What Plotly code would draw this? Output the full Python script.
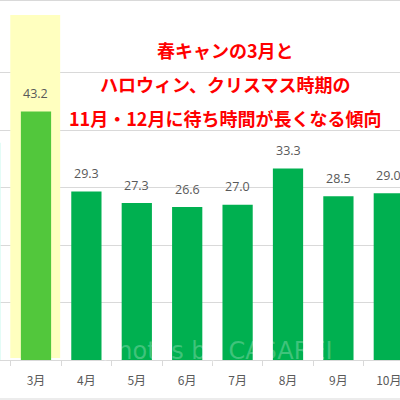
import plotly.graph_objects as go

months = ["2月", "3月", "4月", "5月", "6月", "7月", "8月", "9月", "10月"]
wait_times = [37.8, 43.2, 29.3, 27.3, 26.6, 27.0, 33.3, 28.5, 29.0]
label_texts = ["37.8", "43.2", "29.3", "27.3", "26.6", "27.0", "33.3", "28.5", "29.0"]
bar_colors = ["#d8fbf3", "#52c73c", "#00b050", "#00b050", "#00b050",
              "#00b050", "#00b050", "#00b050", "#00b050"]
note_lines = ["春キャンの3月と", "ハロウィン、クリスマス時期の", "11月・12月に待ち時間が長くなる傾向"]
watermark = "photos by CASAREI"

FONT = "Noto Sans CJK JP"

fig = go.Figure()
fig.add_trace(go.Bar(
    x=months, y=wait_times, marker=dict(color=bar_colors, line=dict(width=0)),
    width=0.6, hoverinfo="skip", showlegend=False,
))

annotations = []
for m, v, t in zip(months, wait_times, label_texts):
    annotations.append(dict(x=m, y=v, xref="x", yref="y", text=t, showarrow=False,
                            yanchor="middle", yshift=18,
                            font=dict(family="Open Sans", size=12.5, color="#595959")))

note_px = [50, 84, 118]
for line, py in zip(note_lines, note_px):
    annotations.append(dict(x=225 / 400, y=(360 - py) / 345, xref="paper", yref="paper",
                            text="<b>" + line + "</b>", showarrow=False,
                            xanchor="center", yanchor="middle",
                            font=dict(family=FONT, size=18, color="#ff0000")))

annotations.append(dict(x=217 / 400, y=(360 - 351) / 345, xref="paper", yref="paper",
                        text=watermark, showarrow=False, xanchor="center", yanchor="middle",
                        font=dict(family="DejaVu Sans", size=24, color="rgba(255,255,255,0.25)")))

shapes = [
    dict(type="rect", xref="x", yref="y", x0=0.49, x1=1.48, y0=0.35, y1=60.5,
         fillcolor="#ffffbf", line=dict(width=0), layer="between"),
    dict(type="line", xref="paper", yref="paper", x0=0, x1=1, y0=(360 - 0.5) / 345, y1=(360 - 0.5) / 345,
         line=dict(color="#d9d9d9", width=1)),
    dict(type="line", xref="paper", yref="paper", x0=0, x1=1, y0=(360 - 399) / 345, y1=(360 - 399) / 345,
         line=dict(color="#d9d9d9", width=1)),
]

fig.update_layout(
    width=400, height=400,
    margin=dict(l=0, r=0, t=15, b=40),
    paper_bgcolor="white", plot_bgcolor="white",
    annotations=annotations, shapes=shapes,
    bargap=0.4,
    xaxis=dict(type="category", categoryorder="array", categoryarray=months,
               range=[0.286, 8.222], showgrid=False, showline=True, linecolor="#d9d9d9",
               ticks="outside", tickson="boundaries", ticklen=5, tickcolor="#d9d9d9",
               ticklabelstandoff=10,
               tickfont=dict(family=FONT, size=12, color="#595959"), fixedrange=True),
    yaxis=dict(range=[0, 60], dtick=10, showgrid=True, gridcolor="#d9d9d9", gridwidth=1,
               showticklabels=False, zeroline=False, showline=False, fixedrange=True),
    font=dict(family=FONT),
)

fig.write_html("out.html", config={"displayModeBar": False},
               post_script="document.body.style.margin='0';")
